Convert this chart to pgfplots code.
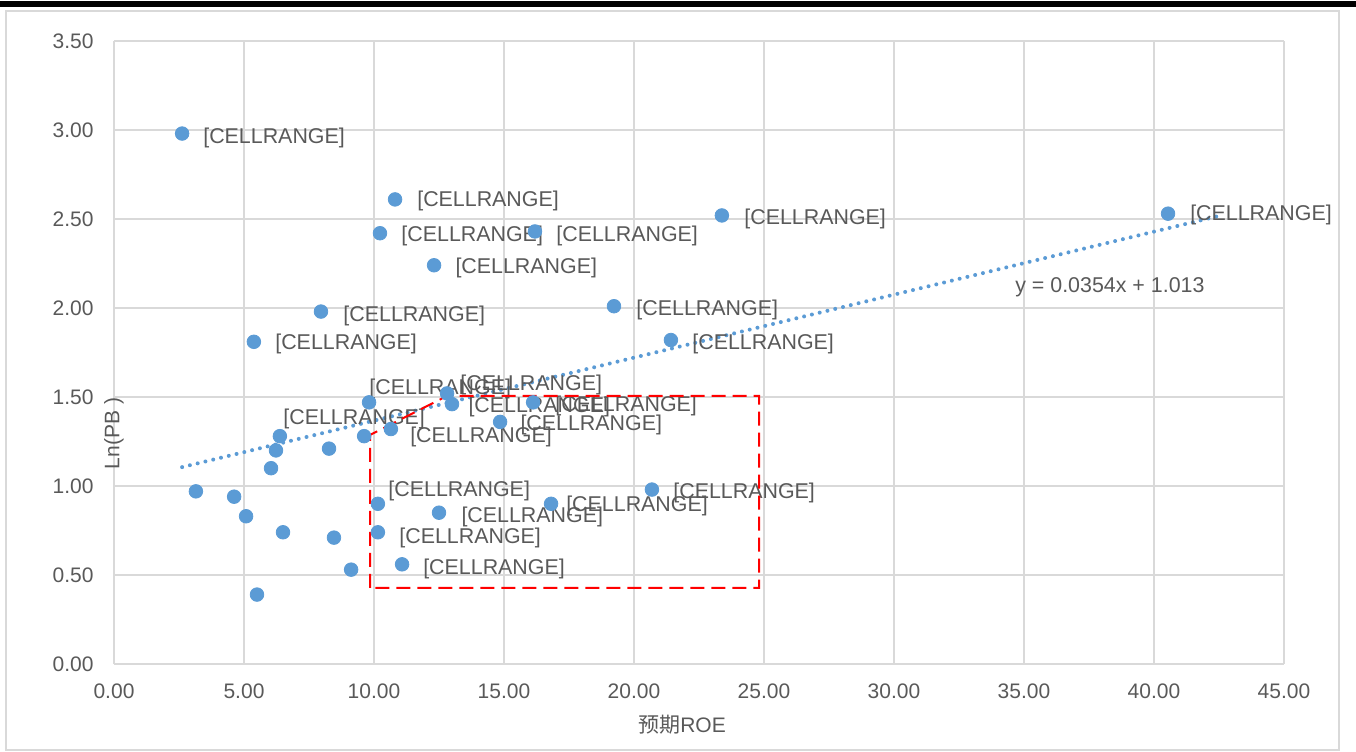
\documentclass[border=0pt]{standalone}
\usepackage{pgfplots}
\pgfplotsset{compat=1.18}
\usepackage{fontspec}
\setmainfont{Liberation Sans}
\newfontfamily\cjk{Noto Sans CJK SC}

\definecolor{ptblue}{HTML}{5B9BD5}
\definecolor{txtgray}{HTML}{595959}
\definecolor{gridgray}{HTML}{D9D9D9}

\tikzset{lbl/.style={anchor=west, inner sep=0pt, yshift=-1pt, txtgray, font=\fontsize{10.7}{12}\selectfont}}

\begin{document}
\begin{tikzpicture}
\useasboundingbox (0,0) rectangle (678pt,375.5pt);
% outer frame and black bar on top
\fill[black] (0,372pt) rectangle (678pt,374.8pt);
\draw[gridgray, line width=1pt] (3pt,0.5pt) rectangle (669.5pt,370pt);

\begin{axis}[
  at={(57pt,43.5pt)}, anchor=south west,
  scale only axis,
  width=585pt, height=311.5pt,
  xmin=0, xmax=45, ymin=0, ymax=3.5,
  xtick={0,5,...,45},
  ytick={0,0.5,...,3.5},
  grid=major,
  grid style={gridgray, line width=0.6pt},
  axis line style={gridgray, line width=0.8pt},
  axis x line=bottom, axis y line=left,
  x axis line style={-}, y axis line style={-},
  major tick length=0pt,
  clip=false,
  font=\fontsize{10.5}{12}\selectfont,
  tick label style={txtgray, font=\fontsize{10.5}{12}\selectfont},
  /pgf/number format/assume math mode=true,
  /pgf/number format/fixed, /pgf/number format/fixed zerofill, /pgf/number format/precision=2,
  xticklabel style={inner sep=0pt, anchor=north, yshift=-9.5pt},
  yticklabel style={inner sep=0pt, anchor=east, xshift=-10pt},
  xlabel={{\cjk 预期}ROE},
  ylabel={Ln(PB )},
  x label style={at={(axis description cs:0.4855,0)}, anchor=center, yshift=-30.5pt, txtgray, font=\fontsize{10.5}{12}\selectfont},
  y label style={at={(axis description cs:0,0.5)}, anchor=center, xshift=-40.5pt, txtgray, font=\fontsize{10.5}{12}\selectfont},
]

% data points
\addplot[only marks, mark=*, mark size=3.4pt, mark options={draw=ptblue, fill=ptblue}]
coordinates {
  (2.62,2.98) (10.81,2.61) (10.23,2.42) (16.19,2.43) (23.38,2.52)
  (40.54,2.53) (12.31,2.24) (19.23,2.01) (7.96,1.98) (21.42,1.82)
  (5.38,1.81) (9.81,1.47) (12.81,1.52) (13.00,1.46) (16.12,1.47)
  (14.85,1.36) (10.65,1.32) (9.62,1.28) (6.38,1.28) (6.23,1.20)
  (8.27,1.21) (6.04,1.10) (3.15,0.97) (4.62,0.94) (5.08,0.83)
  (6.50,0.74) (8.46,0.71) (10.15,0.90) (12.50,0.85) (10.15,0.74)
  (9.12,0.53) (11.08,0.56) (5.50,0.39) (16.81,0.90) (20.69,0.98)
};

% linear trendline y = 0.0354x + 1.013
\addplot[ptblue, line width=2pt, line cap=round, dash pattern=on 0pt off 4pt]
coordinates {(2.62,1.106) (42.46,2.516)};

% data labels
\node[lbl] at (axis cs:3.42,2.966) {[CELLRANGE]};
\node[lbl] at (axis cs:11.65,2.612) {[CELLRANGE]};
\node[lbl] at (axis cs:11.04,2.416) {[CELLRANGE]};
\node[lbl] at (axis cs:17.00,2.416) {[CELLRANGE]};
\node[lbl] at (axis cs:24.23,2.511) {[CELLRANGE]};
\node[lbl] at (axis cs:41.38,2.534) {[CELLRANGE]};
\node[lbl] at (axis cs:13.12,2.236) {[CELLRANGE]};
\node[lbl] at (axis cs:20.08,1.999) {[CELLRANGE]};
\node[lbl] at (axis cs:8.81,1.966) {[CELLRANGE]};
\node[lbl] at (axis cs:22.23,1.809) {[CELLRANGE]};
\node[lbl] at (axis cs:6.19,1.809) {[CELLRANGE]};
\node[lbl] at (axis cs:9.81,1.556) {[CELLRANGE]};
\node[lbl] at (axis cs:13.31,1.579) {[CELLRANGE]};
\node[lbl] at (axis cs:13.62,1.455) {[CELLRANGE]};
\node[lbl] at (axis cs:16.96,1.461) {[CELLRANGE]};
\node[lbl] at (axis cs:15.62,1.354) {[CELLRANGE]};
\node[lbl] at (axis cs:11.38,1.287) {[CELLRANGE]};
\node[lbl] at (axis cs:6.50,1.388) {[CELLRANGE]};
\node[lbl] at (axis cs:10.54,0.983) {[CELLRANGE]};
\node[lbl] at (axis cs:13.35,0.837) {[CELLRANGE]};
\node[lbl] at (axis cs:10.96,0.719) {[CELLRANGE]};
\node[lbl] at (axis cs:11.88,0.545) {[CELLRANGE]};
\node[lbl] at (axis cs:17.38,0.899) {[CELLRANGE]};
\node[lbl] at (axis cs:21.50,0.972) {[CELLRANGE]};

% trendline equation
\node[lbl] at (axis cs:34.65,2.129) {y = 0.0354x + 1.013};

% red dashed outline
\addplot[red, line width=1pt, dash pattern=on 7pt off 3.5pt]
coordinates {(9.85,0.427) (9.85,1.287) (12.81,1.506) (24.81,1.506) (24.81,0.427) (9.85,0.427)};

\end{axis}
\end{tikzpicture}
\end{document}
